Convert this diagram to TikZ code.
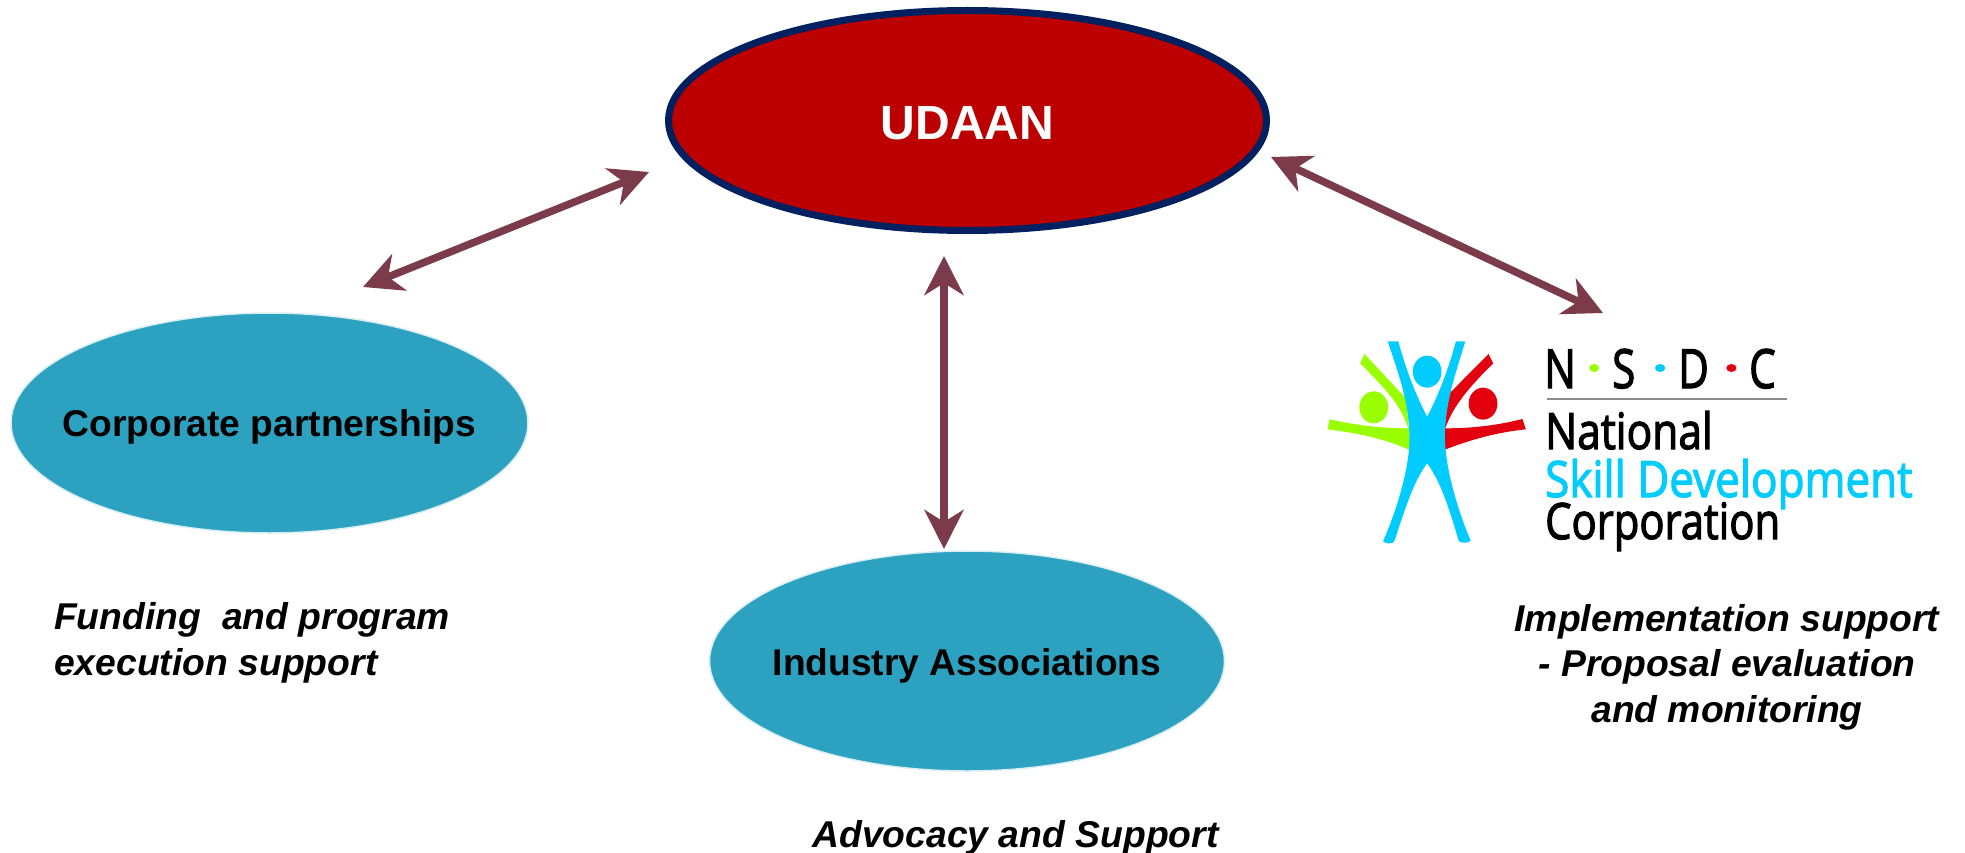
\documentclass[tikz,border=0pt]{standalone}
\usepackage{fontspec}
\setmainfont{Liberation Sans}
\newfontfamily\logofont[FakeBold=2.5]{Open Sans}
\usetikzlibrary{arrows.meta,shapes.geometric}
\definecolor{udaanred}{HTML}{BC0000}
\definecolor{navyline}{HTML}{002060}
\definecolor{tealfill}{HTML}{2DA2C0}
\definecolor{tealline}{HTML}{D8EEF3}
\definecolor{arrowcol}{HTML}{7B3B4B}
\definecolor{logogreen}{HTML}{99FF00}
\definecolor{logoblue}{HTML}{00CCFF}
\definecolor{logored}{HTML}{E3000F}
\definecolor{rulegray}{HTML}{8C8C8C}
\tikzset{
  oval/.style={ellipse,draw=tealline,line width=1.5pt,fill=tealfill,inner sep=0pt},
  ovaltext/.style={font=\bfseries\fontsize{37.2}{37.2}\selectfont,text=black,inner sep=0pt},
  note/.style={font=\bfseries\itshape\fontsize{37.3}{45.5}\selectfont,text=black,inner sep=0pt},
  link/.style={draw=arrowcol,line width=7.5pt,{Stealth[length=39pt,width=39pt,inset=12pt]}-{Stealth[length=39pt,width=39pt,inset=12pt]}},
  logotext/.style={font=\logofont\fontsize{50}{50}\selectfont,anchor=base west,inner sep=0pt,transform shape},
  logoletter/.style={font=\logofont\fontsize{54}{54}\selectfont,anchor=base west,inner sep=0pt,transform shape,xscale=0.78}
}
\begin{document}
\begin{tikzpicture}[x=1pt,y=-1pt]
\useasboundingbox (0,0) rectangle (1965,853);
\node[ellipse,minimum width=598pt,minimum height=220pt,inner sep=0pt,draw=navyline,line width=7pt,fill=udaanred] (udaan) at (967.5,120.5) {};
\node[font=\bfseries\fontsize{48}{48}\selectfont,text=white,inner sep=0pt] (udaant) at (967.5,123) {UDAAN};
\node[oval,minimum width=517pt,minimum height=220pt] (corp) at (269.5,423) {};
\node[ovaltext] (corpt) at (269.5,427) {Corporate partnerships};
\node[oval,minimum width=515pt,minimum height=220pt] (ind) at (967,661) {};
\node[ovaltext] (indt) at (967,666) {Industry Associations};
\coordinate (la) at (363,287); \coordinate (lb) at (649,172);
\coordinate (ra) at (1271,157); \coordinate (rb) at (1603,313);
\coordinate (ca) at (944,256); \coordinate (cb) at (944,549);
\draw[link] (la) -- (lb);
\draw[link] (ra) -- (rb);
\draw[link] (ca) -- (cb);
\node[note,anchor=base west,align=left] (n1) at (54,675) {Funding\ \ and program\\execution support};
\node[note,anchor=base,align=center] (n2) at (1727,722) {Implementation support\\- Proposal evaluation\\and monitoring};
\node[note,anchor=base] (n3) at (1015.5,847) {Advocacy and Support};
% logo
\begin{scope}[shift={(1300,300)},x=0.4237pt,y=-0.3333pt]
\fill[logogreen] (152,162) -- (250,295) -- (262,452) .. controls (200,415) and (130,398) .. (65,388) -- (70,358) .. controls (130,375) and (190,385) .. (255,385) .. controls (240,320) and (205,270) .. (142,190) -- cycle;
\fill[logored] (445,162) -- (456,190) .. controls (400,260) and (360,320) .. (343,385) .. controls (410,385) and (470,375) .. (525,357) -- (533,388) .. controls (460,398) and (400,420) .. (340,450) -- (345,290) -- cycle;
\fill[logoblue] (207,124) -- (232,124) .. controls (250,210) and (275,290) .. (300,350) .. controls (325,290) and (350,210) .. (368,124) -- (390,124) .. controls (365,230) and (345,300) .. (342,400) .. controls (340,500) and (375,640) .. (403,722) .. controls (395,730) and (385,730) .. (375,724) .. controls (355,640) and (335,550) .. (300,490) .. controls (265,550) and (245,640) .. (222,726) .. controls (215,732) and (205,732) .. (196,724) .. controls (225,640) and (262,500) .. (258,400) .. controls (255,300) and (235,230) .. (207,124) -- cycle;
\fill[logoblue] (300,215) ellipse [x radius=34,y radius=48];
\fill[logogreen] (174,322) ellipse [x radius=34,y radius=48];
\fill[logored] (432,311) ellipse [x radius=34,y radius=48];
\fill[logogreen] (694,204) ellipse [x radius=12,y radius=12];
\fill[logoblue] (850,204) ellipse [x radius=12,y radius=12];
\fill[logored] (1018,204) ellipse [x radius=12,y radius=12];
\draw[rulegray,line width=2.5pt] (583,297) -- (1150,297);
\end{scope}
\node[logoletter] (lN) at (1544,388) {N};
\node[logoletter] (lS) at (1612,388) {S};
\node[logoletter] (lD) at (1678,388) {D};
\node[logoletter] (lC) at (1749,388) {C};
\node[logotext,xscale=0.85] (l1) at (1545,449) {National};
\node[logotext,xscale=0.88,text=logoblue] (l2) at (1545,497) {Skill Development};
\node[logotext,xscale=0.835] (l3) at (1545,539) {Corporation};
\end{tikzpicture}
\end{document}
